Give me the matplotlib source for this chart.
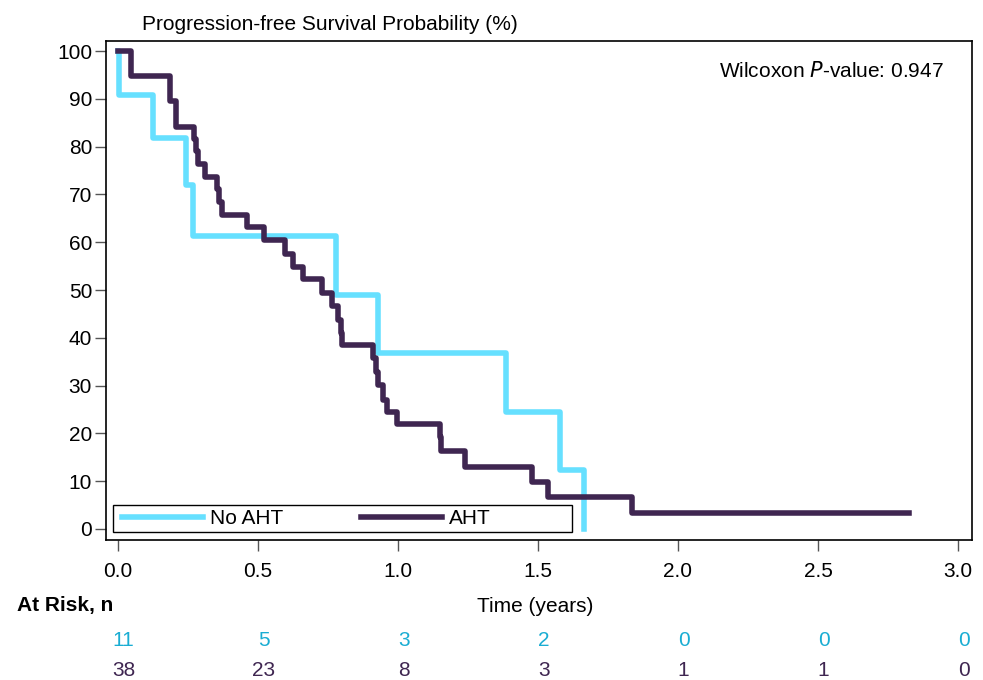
import matplotlib
matplotlib.use("Agg")
import matplotlib.pyplot as plt
from matplotlib.patches import Rectangle

plt.rcParams['font.family'] = ['Liberation Sans', 'DejaVu Sans']

# Kaplan-Meier steps (time in years, survival in %)
no_aht_t = [0.0, 0.005, 0.124, 0.243, 0.267, 0.78, 0.93, 1.385, 1.58, 1.665]
no_aht_s = [100, 90.9, 81.8, 72.0, 61.2, 49.0, 36.8, 24.5, 12.3, 0.0]

aht_t = [0.0, 0.045, 0.186, 0.207, 0.272, 0.28, 0.285, 0.31, 0.355, 0.36, 0.37,
         0.46, 0.52, 0.595, 0.625, 0.66, 0.73, 0.765, 0.785, 0.795, 0.80, 0.91,
         0.92, 0.93, 0.945, 0.96, 0.995, 1.15, 1.155, 1.24, 1.48, 1.535, 1.835]
aht_s = [100, 94.7, 89.5, 84.2, 81.6, 79.0, 76.3, 73.7, 71.1, 68.4, 65.8,
         63.2, 60.5, 57.6, 54.8, 52.3, 49.4, 46.6, 43.7, 41.0, 38.5, 35.8,
         32.8, 30.1, 27.0, 24.5, 22.0, 19.2, 16.4, 13.0, 9.8, 6.7, 3.3]
aht_end = 2.825

risk_times = [0.0, 0.5, 1.0, 1.5, 2.0, 2.5, 3.0]
risk_no_aht = [11, 5, 3, 2, 0, 0, 0]
risk_aht = [38, 23, 8, 3, 1, 1, 0]

cyan = '#66E0FF'
cyan_txt = '#1AADD3'
purple = '#3F2651'
fs = 15

fig = plt.figure(figsize=(9.83, 6.8), dpi=100)
ax = fig.add_axes([0.1078, 0.2059, 0.8810, 0.7338])

ax.step(no_aht_t, no_aht_s, where='post', color=cyan, lw=4, label='No AHT')
ax.step(aht_t + [aht_end], aht_s + [aht_s[-1]], where='post', color=purple, lw=4, label='AHT')

ax.set_xlim(-0.043, 3.05)
ax.set_ylim(-2.3, 102.1)
ax.set_xticks(risk_times)
ax.set_xticklabels([f"{t:.1f}" for t in risk_times])
ax.set_yticks(range(0, 101, 10))
ax.tick_params(axis='both', labelsize=fs, length=8, width=1, color='#555555', direction='out')
ax.tick_params(axis='x', pad=8)
ax.tick_params(axis='y', pad=2)
for sp in ax.spines.values():
    sp.set_linewidth(1.2)
    sp.set_color('black')

fig.text(142 / 983, 1 - 24 / 680, 'Progression-free Survival Probability (%)',
         fontsize=fs, va='center', ha='left')
ax.text(0.968, 0.94, 'Wilcoxon $\\it{P}$-value: 0.947', transform=ax.transAxes,
        fontsize=fs, ha='right', va='center')

# legend box drawn separately so it can be wider than its entries
box = Rectangle((0.008, 0.016), 0.530, 0.054, transform=ax.transAxes,
                facecolor='white', edgecolor='black', lw=1, zorder=4)
ax.add_patch(box)
leg = ax.legend(loc='center left', bbox_to_anchor=(0.011, 0.043), borderaxespad=0,
                ncol=2, handlelength=3.9, columnspacing=3.7, fontsize=fs,
                frameon=False, borderpad=0.3, handletextpad=0.35)
leg.set_zorder(5)

fig.text(17 / 983, 1 - 606 / 680, 'At Risk, n', fontsize=fs, fontweight='bold',
         ha='left', va='center')
fig.text(535 / 983, 1 - 607 / 680, 'Time (years)', fontsize=fs, ha='center', va='center')

for t, a, b in zip(risk_times, risk_no_aht, risk_aht):
    xf = (ax.transData.transform((t + 0.02, 0))[0]) / fig.bbox.width
    fig.text(xf, 1 - 640 / 680, str(a), color=cyan_txt, fontsize=fs, ha='center', va='center')
    fig.text(xf, 1 - 670 / 680, str(b), color=purple, fontsize=fs, ha='center', va='center')

fig.savefig('out.png', dpi=100)
